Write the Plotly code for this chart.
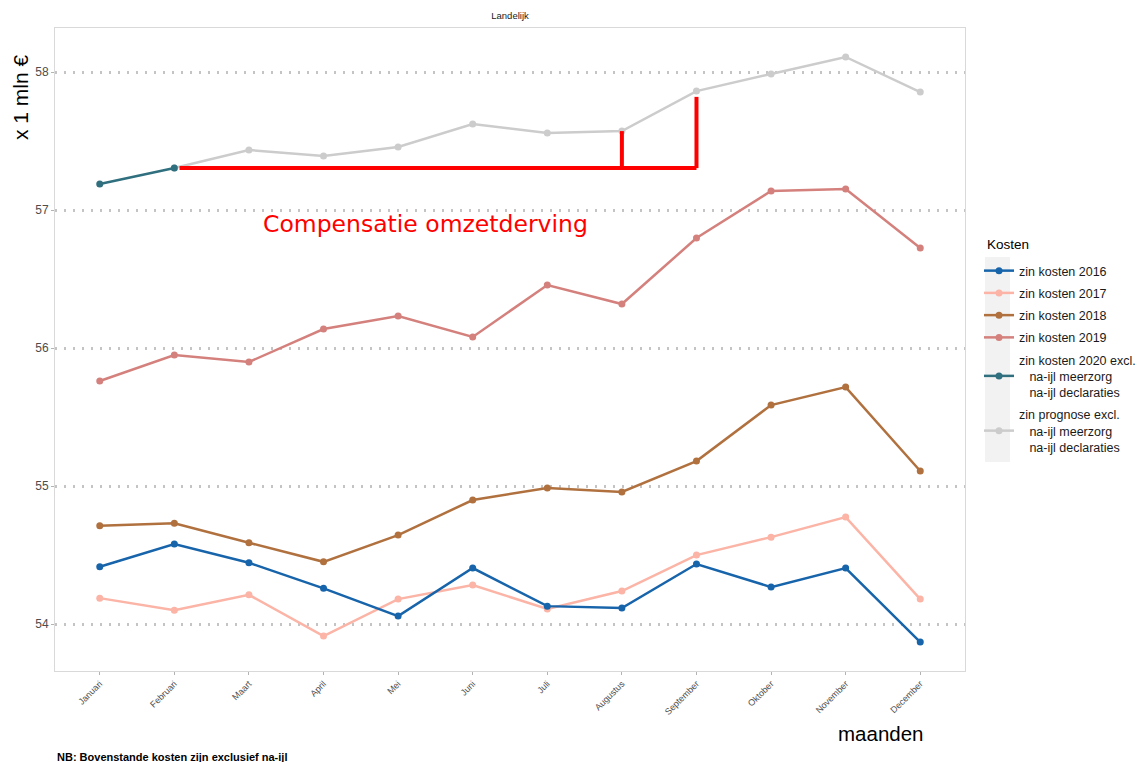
import plotly.graph_objects as go

months = ["Januari", "Februari", "Maart", "April", "Mei", "Juni", "Juli",
          "Augustus", "September", "Oktober", "November", "December"]

kosten_2016 = [54.415, 54.580, 54.444, 54.259, 54.058, 54.406, 54.130, 54.116, 54.435, 54.268, 54.406, 53.870]
kosten_2017 = [54.188, 54.101, 54.212, 53.913, 54.181, 54.283, 54.109, 54.239, 54.500, 54.630, 54.775, 54.181]
kosten_2018 = [54.712, 54.730, 54.589, 54.451, 54.645, 54.899, 54.986, 54.957, 55.181, 55.587, 55.717, 55.109]
kosten_2019 = [55.761, 55.949, 55.899, 56.138, 56.232, 56.080, 56.457, 56.319, 56.797, 57.138, 57.152, 56.725]
kosten_2020 = [57.188, 57.304]
prognose = [None, 57.304, 57.435, 57.391, 57.457, 57.623, 57.558, 57.572, 57.862, 57.986, 58.109, 57.855]

# red compensation bracket (month index / value)
comp_level = 57.304
comp_start = 1
comp_aug = 7
comp_sep = 8
comp_sep_top = 57.82

names = ["zin kosten 2016", "zin kosten 2017", "zin kosten 2018", "zin kosten 2019",
         "zin kosten 2020 excl.<br>\u00a0\u00a0\u00a0na-ijl meerzorg<br>\u00a0\u00a0\u00a0na-ijl declaraties",
         "zin prognose excl.<br>\u00a0\u00a0\u00a0na-ijl meerzorg<br>\u00a0\u00a0\u00a0na-ijl declaraties"]
colors = ["#1764AB", "#FBB4A6", "#B0713F", "#D4817D", "#2F6F7E", "#CCCCCC"]

x_idx = list(range(len(months)))

# page geometry (the page body has an 8px margin)
OFF = 8
PL, PR, PT, PB = 55, 965, 28, 671  # plot panel in page pixels
FW, FH = 1145 - OFF, 762 - OFF


def px(xp):
    return (xp - PL) / (PR - PL)


def py(yp):
    return (PB - yp) / (PB - PT)


fig = go.Figure()

series = [kosten_2016, kosten_2017, kosten_2018, kosten_2019, kosten_2020, prognose]
order = [5, 4, 3, 2, 1, 0]
traces = {}
for i, vals in enumerate(series):
    xs = [x_idx[j] for j, v in enumerate(vals) if v is not None]
    ys = [v for v in vals if v is not None]
    traces[i] = go.Scatter(
        x=xs, y=ys, mode="lines+markers", name=names[i],
        line=dict(color=colors[i], width=2.5),
        marker=dict(color=colors[i], size=7),
        legendrank=i + 1, legendgroup=str(i),
    )
for i in order:
    fig.add_trace(traces[i])

# compensation bracket
red = dict(color="#FF0000", width=4)
fig.add_trace(go.Scatter(x=[comp_start + 0.07, comp_sep], y=[comp_level, comp_level], mode="lines",
                         line=red, showlegend=False, hoverinfo="skip"))
fig.add_trace(go.Scatter(x=[comp_aug, comp_aug], y=[comp_level, prognose[comp_aug]], mode="lines",
                         line=red, showlegend=False, hoverinfo="skip"))
fig.add_trace(go.Scatter(x=[comp_sep, comp_sep], y=[comp_level, comp_sep_top], mode="lines",
                         line=red, showlegend=False, hoverinfo="skip"))

fig.add_annotation(x=4.37, y=56.9, xref="x", yref="y", text="Compensatie omzetderving",
                   xanchor="center", yanchor="middle", showarrow=False,
                   font=dict(family="DejaVu Sans", size=23.5, color="#FF0000"))

# legend key background
fig.add_shape(type="rect", xref="paper", yref="paper",
              x0=px(985), x1=px(1010), y0=py(462), y1=py(257),
              fillcolor="#F2F2F2", line=dict(width=0), layer="below")

fig.update_layout(
    width=FW, height=FH,
    margin=dict(l=PL - OFF, r=FW - (PR - OFF), t=PT - OFF, b=FH - (PB - OFF), autoexpand=False),
    paper_bgcolor="white", plot_bgcolor="white",
    font=dict(family="Liberation Sans, Arial", color="#000000"),
    title=dict(text="Landelijk", x=(510 - OFF) / FW, xanchor="center", y=1 - (16 - OFF) / FH,
               yanchor="middle", font=dict(size=9.5, color="#1a1a1a")),
    showlegend=True,
    legend=dict(x=px(979), xanchor="left", y=py(256), yanchor="top",
                font=dict(size=12.5, color="#1a1a1a"), bgcolor="rgba(0,0,0,0)",
                tracegroupgap=3, itemwidth=30),
    xaxis=dict(range=[-0.6, 11.6], tickmode="array", tickvals=x_idx, ticktext=months,
               tickangle=-45, tickfont=dict(size=9, color="#4D4D4D"), automargin=False,
               showgrid=False, zeroline=False, showline=True, mirror=True,
               linecolor="#D9D9D9", linewidth=1,
               ticks="outside", ticklen=3, tickcolor="#B3B3B3"),
    yaxis=dict(range=[53.66, 58.319], tickvals=[54, 55, 56, 57, 58], automargin=False,
               tickfont=dict(size=12, color="#4D4D4D"),
               showgrid=True, gridcolor="#C4C4C4", griddash="2px,7px", gridwidth=2.5,
               zeroline=False, showline=True, mirror=True, linecolor="#D9D9D9", linewidth=1,
               ticks="outside", ticklen=3, tickcolor="#B3B3B3"),
)

fig.add_annotation(x=px(20), y=py(97), xref="paper", yref="paper", text="x 1 mln €",
                   xanchor="center", yanchor="middle", showarrow=False,
                   textangle=-90, font=dict(size=21, color="#000000"))
fig.add_annotation(x=px(880), y=py(733), xref="paper", yref="paper", text="maanden",
                   xanchor="center", yanchor="middle", showarrow=False,
                   font=dict(size=20.5, color="#000000"))
fig.add_annotation(x=px(985), y=py(244), xref="paper", yref="paper", text="Kosten",
                   xanchor="left", yanchor="middle", showarrow=False,
                   font=dict(size=13.5, color="#000000"))
fig.add_annotation(x=0, y=py(757), xref="paper", yref="paper", xanchor="left", yanchor="middle",
                   text="<b>NB: Bovenstande kosten zijn exclusief na-ijl</b>", showarrow=False,
                   font=dict(size=11, color="#000000"))

fig.write_html("out.html")
